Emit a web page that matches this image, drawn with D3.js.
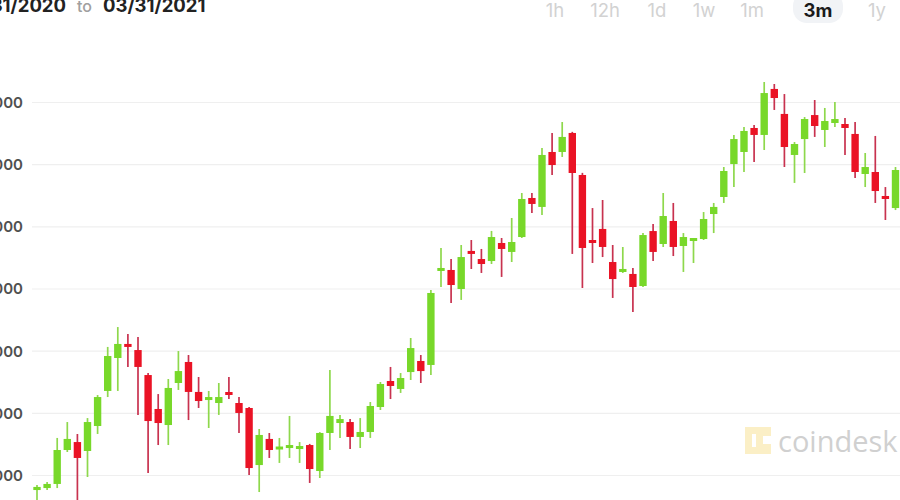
<!DOCTYPE html>
<html>
<head>
<meta charset="utf-8">
<script src="https://cdn.jsdelivr.net/npm/d3@7"></script>
<style>
  html, body { margin: 0; padding: 0; background: #fff; overflow: hidden; }
  svg { display: block; }
</style>
</head>
<body>
<svg id="chart" width="900" height="500"></svg>
<script>
// ---- data (BTC/USD daily candles, 12/31/2020 onward, as visible) ----
const startDate = new Date(2020, 11, 31);
const endDate = new Date(2021, 3, 1);   // exclusive -> last day 03/31/2021

const openV = [28790,28950,29280,32010,32650,31930,33940,36760,39410,40540,
  40050,38040,35310,34020,37400,39090,36680,36030,35790,36600,
  35790,35390,30800,32900,32090,32250,32170,32410,30320,33380,
  34180,34260,33060,33460,35470,37560,36920,38280,39170,38850,
  46490,46490,44960,47940,47370,47210,48660,47940,49140,52280,
  51560,55980,55980,57510,54130,48820,49790,47130,46330,46170,
  45200,49620,48580,50430,48420,48900,48980,50990,52360,55010,
  55980,57910,57350,61050,59040,55740,57020,58950,57750,58310,
  58230,57430,54210,54370,52360,51470];
const highV = [29200,29440,32980,34260,33300,34580,36430,40300,41900,41340,
  41100,38200,36510,37720,39970,39650,37880,36760,37400,37880,
  36270,35470,33700,33380,32980,34750,32650,32500,33450,38450,
  34830,34500,34580,35870,37480,38690,38200,41020,39650,44880,
  48260,47370,48500,48900,48180,49630,49060,50670,52680,52680,
  56300,57510,58390,57600,54300,51470,52120,48500,48340,46650,
  49460,50190,52680,51880,49460,49060,51150,51880,54770,57350,
  57990,58150,61610,61450,60640,56780,58790,60160,59520,60000,
  58710,58390,55900,57270,53160,54770];
const lowV = [27990,28790,28950,31850,27990,29840,33300,36270,36760,38690,
  34830,30160,32410,32410,36840,34420,35390,33780,34830,36110,
  33380,30000,28630,31370,30970,31370,30970,29360,29760,32010,
  32980,32090,32170,32980,35230,36110,36600,37640,37400,38040,
  45120,43830,44080,46570,46250,46970,45930,47130,49060,51070,
  50910,54130,55580,47780,45040,47050,47530,44240,46250,43110,
  45120,47210,48340,47610,46330,47050,48900,49460,51880,53160,
  54370,55180,56140,59360,54770,53490,54290,57190,56380,57990,
  55740,53890,53160,51880,50510,51310];
const closeV = [29040,29280,32010,32900,31370,34260,36270,39570,40540,40300,
  38690,34340,34180,37000,38360,36680,35950,36270,36270,36510,
  34990,30560,33220,32010,32250,32330,32250,30480,33380,34750,
  34500,33060,33460,35550,37320,37160,37800,40210,38360,44640,
  46570,45280,47530,47860,46970,49140,48180,48740,52200,51800,
  55740,54930,57190,54290,48260,48740,48340,45760,46570,45120,
  49300,47940,50830,48340,49140,48980,50590,51560,54450,57020,
  57670,57350,60720,60320,56380,56620,58630,58070,58470,58630,
  57910,54370,54770,52840,52280,54530];

const yTicks = [30000, 35000, 40000, 45000, 50000, 55000, 60000];
const rangeButtons = ["1h", "12h", "1d", "1w", "1m", "3m", "1y"];
const activeRange = "3m";
const rangeFrom = "12/31/2020";
const rangeTo = "03/31/2021";

// ---- setup ----
const svg = d3.select("#chart");
const days = d3.timeDay.range(startDate, endDate);

const x = d3.scaleBand()
  .domain(days.map(d => +d))
  .range([31.95, 31.95 + days.length * 10.1])
  .paddingInner(0.27)
  .paddingOuter(0.135);

const y = d3.scaleLinear().domain([30000, 60000]).range([475, 102]);

const candles = openV.map((o, i) => ({
  date: days[i], open: o, high: highV[i], low: lowV[i], close: closeV[i]
}));

// ---- gridlines + y labels ----
const yAxis = d3.axisLeft(y)
  .tickValues(yTicks)
  .tickSize(-(900 - 32))
  .tickFormat(d3.format(","));
const gy = svg.append("g").attr("transform", "translate(32,0)").call(yAxis);
gy.select(".domain").remove();
gy.selectAll(".tick line").attr("stroke", "#efefef").attr("stroke-width", 1.2);
gy.selectAll(".tick text")
  .attr("x", -9)
  .attr("dy", "0.36em")
  .attr("fill", "#505050")
  .style("font-family", "Inter, 'Open Sans', sans-serif")
  .style("font-size", "15px")
  .style("font-weight", "600");

// ---- watermark ----
const wm = svg.append("g");
wm.append("path")
  .attr("d", "M745,427 H771 V436 H763 V444 H771 V454 H745 Z M752,434 V447 H756 V434 Z")
  .attr("fill", "#fbefc6")
  .attr("fill-rule", "evenodd");
wm.append("text")
  .attr("x", 778).attr("y", 452)
  .attr("fill", "#d0d0d0")
  .style("font-family", "'Open Sans', Lato, sans-serif")
  .style("font-size", "29px")
  .text("coindesk");

// ---- candles ----
const up = d => d.close >= d.open;
const cx = d => x(+d.date) + x.bandwidth() / 2;

const g = svg.append("g");
g.selectAll("line.wick").data(candles).join("line")
  .attr("class", "wick")
  .attr("x1", cx).attr("x2", cx)
  .attr("y1", d => y(d.high)).attr("y2", d => y(d.low))
  .attr("stroke", d => up(d) ? "#8ed84c" : "#c8324f")
  .attr("stroke-width", 1.7);

g.selectAll("rect.body").data(candles).join("rect")
  .attr("class", "body")
  .attr("x", d => x(+d.date))
  .attr("width", x.bandwidth())
  .attr("y", d => {
    const top = y(Math.max(d.open, d.close));
    const h = Math.abs(y(d.open) - y(d.close));
    return h < 3 ? (top + h / 2 - 1.5) : top;
  })
  .attr("height", d => Math.max(3, Math.abs(y(d.open) - y(d.close))))
  .attr("fill", d => up(d) ? "#78d82a" : "#ea1325");

// ---- header: date range ----
const hdrFont = "Inter, Roboto, 'Open Sans', sans-serif";
svg.append("text")
  .attr("x", 66).attr("y", 12)
  .attr("text-anchor", "end")
  .attr("fill", "#222")
  .style("font-family", hdrFont).style("font-size", "18.5px").style("font-weight", "700")
  .text(rangeFrom);
svg.append("text")
  .attr("x", 77).attr("y", 12)
  .attr("fill", "#a0a0a0")
  .style("font-family", hdrFont).style("font-size", "16px").style("font-weight", "500")
  .text("to");
svg.append("text")
  .attr("x", 103).attr("y", 12)
  .attr("fill", "#222")
  .style("font-family", hdrFont).style("font-size", "18.5px").style("font-weight", "700")
  .text(rangeTo);

// ---- header: range buttons ----
const btnX = [555, 605, 657, 704, 752, 818, 877];
const btn = svg.append("g");
btn.append("rect")
  .attr("x", 793).attr("y", -8).attr("width", 50).attr("height", 31).attr("rx", 14)
  .attr("fill", "#f1f3f6");
btn.selectAll("text").data(rangeButtons).join("text")
  .attr("x", (d, i) => btnX[i]).attr("y", 17)
  .attr("text-anchor", "middle")
  .attr("fill", d => d === activeRange ? "#1a1a1a" : "#d2d2d2")
  .style("font-family", hdrFont)
  .style("font-size", "18.5px")
  .style("font-weight", d => d === activeRange ? "700" : "400")
  .text(d => d);
</script>
</body>
</html>
